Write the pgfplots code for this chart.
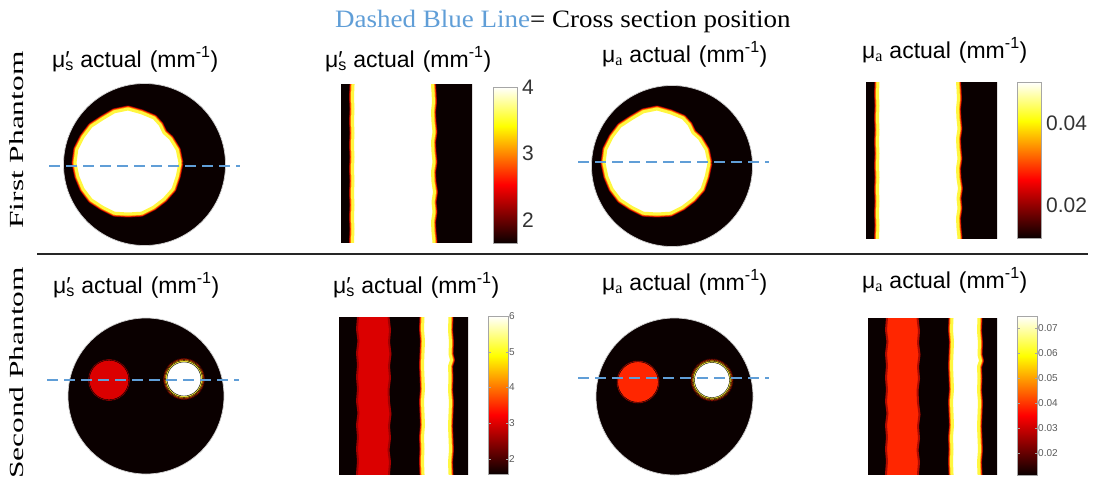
\documentclass[border=0pt]{standalone}
\usepackage{graphicx}
\usepackage{pgfplots}
\pgfplotsset{compat=1.18}
\usepackage{pgfplotstable}
\usepackage{fontspec}
\setmainfont{Liberation Sans}
\newfontfamily\serif{Liberation Serif}

% hot colour scale (black - red - yellow - white)
\pgfplotsset{colormap={matlabhot}{rgb=(0.0417,0,0) rgb=(0.36,0,0) rgb=(0.68,0,0) rgb=(1,0,0)
  rgb=(1,0.333,0) rgb=(1,0.667,0) rgb=(1,1,0) rgb=(1,1,0.5) rgb=(1,1,1)}}

\definecolor{hotblack}{rgb}{0.04,0,0}
\definecolor{hotdark}{rgb}{0.55,0,0}
\definecolor{hotred}{rgb}{0.86,0,0}
\definecolor{hotredA}{rgb}{1,0.15,0}
\definecolor{hotmid}{rgb}{0.97,0.15,0}
\definecolor{hotorange}{rgb}{1,0.6,0}
\definecolor{hotyellow}{rgb}{1,0.97,0.25}
\definecolor{lineblue}{RGB}{96,158,215}

% boundary of the large inclusion (offsets from its centre, pixels, y downwards)
\pgfplotstableread{
dx dy
52 0
49.3 -13.2
42.4 -24.5
36 -30.2
32.1 -38.3
26 -45
13.5 -50.2
0 -54
-13.7 -51.2
-25.5 -44.2
-36.8 -36.8
-45 -26
-51.2 -13.7
-53 0
-50.2 13.5
-45 26
-36.8 36.8
-25.5 44.2
-13.5 50.2
0 51
13.5 50.2
25.5 44.2
36.1 36.1
45 26
49.3 13.2
52 0
}\inclusion

% bright band of the first phantom cross section
\pgfplotstableread{
x y
353 75
353 85
352.5 97
353 109
352.5 121
353 133
352.5 145
353 157
352.5 169
353 181
352.5 193
353 205
352.5 217
353 229
352.5 242
352.5 252
433 252
434 242
433 232
432.5 222
434 212
433 202
434.5 192
433 182
432.5 172
434 162
433 152
432.5 142
434 132
433 122
432.5 112
433.5 102
433 92
432.5 85
432.5 75
353 75
}\secBright

% red band of the second phantom cross section
\pgfplotstableread{
x y
358 307
358 317
357 329
358.5 341
357 353
358 365
357 377
358 389
357 401
358.5 413
357 425
358 437
357 449
358 461
357 474
357 484
389 484
389 474
390 462
388.5 450
390 438
389 426
390.5 414
389 402
388.5 390
390 378
389 366
390.5 354
389 342
390 330
388.5 317
388.5 307
358 307
}\secRed

% bright band of the second phantom cross section
\pgfplotstableread{
x y
423 307
423 317
422.5 329
423.5 341
423 353
422.5 365
423 377
423.5 389
422.5 401
423 413
423.5 425
422.5 437
423 449
422.5 461
423 474
423 484
450 484
450 474
449.5 462
450.5 450
450 438
449.5 426
450 414
450.5 402
449.5 390
450 378
449.5 366
451.5 360
450 354
450.5 342
449.5 330
450 317
450 307
423 307
}\secWhite

% white region with its glowing rim: #1 table options, #2 table
\newcommand{\hotfringe}[2]{%
  \addplot[draw=hotdark, line width=7pt, line join=round] table[#1] {#2};
  \addplot[draw=hotmid, line width=5.8pt, line join=round] table[#1] {#2};
  \addplot[draw=hotorange, line width=4.4pt, line join=round] table[#1] {#2};
  \addplot[draw=hotyellow, fill=white, line width=3pt, line join=round] table[#1] {#2};
}
% filled disc of radius #2 at point #3
\newcommand{\disc}[3]{%
  \addplot[only marks, mark=*, mark size=#2, mark options={fill=#1, draw=none}] coordinates {#3};
}

\newcommand{\musp}{μ\rlap{′}\textsubscript{s}}
\newcommand{\mua}{μ\textsubscript{\serif a}}
\newcommand{\ttl}[1]{\fontsize{23}{23}\selectfont #1 actual\hspace{0.35em}(mm\textsuperscript{-1})}

\pgfplotsset{
  xsec/.style={anchor=south west, scale only axis, hide axis, y dir=reverse, clip=true},
  cbar/.style={anchor=south west, scale only axis, xmin=0, xmax=1, xtick=\empty,
    yticklabel pos=right, colormap name=matlabhot, axis on top, scaled y ticks=false,
    axis line style={draw=gray!70, line width=0.8pt}},
  bigcb/.style={major tick length=0pt,
    yticklabel style={font=\fontsize{21}{21}\selectfont, text=black!80, inner xsep=0pt, xshift=5pt}},
  smallcb/.style={major tick length=2.5pt, tick style={gray!70},
    yticklabel style={font=\fontsize{10}{10}\selectfont, text=black!65, inner xsep=0pt, xshift=1pt}},
}

\begin{document}
\begin{tikzpicture}
% ---------------- page frame in pixel units ----------------
\begin{axis}[at={(0,0)}, anchor=south west, scale only axis, width=1101pt, height=485pt,
  xmin=0, xmax=1101, ymin=0, ymax=485, y dir=reverse, hide axis, clip=false,
  clip marker paths=true]

\node[anchor=base west, inner sep=0pt] at (axis cs:335,27)
  {\scalebox{1.08}[1]{\serif\fontsize{25}{25}\selectfont\textcolor{lineblue}{Dashed Blue Line}= Cross section position}};

\node[rotate=90, anchor=base, inner sep=0pt] at (axis cs:23,140)
  {\scalebox{1.57}[1]{\serif\fontsize{20}{20}\selectfont First Phantom}};
\node[rotate=90, anchor=base, inner sep=0pt] at (axis cs:23,373)
  {\scalebox{1.57}[1]{\serif\fontsize{20}{20}\selectfont Second Phantom}};

\addplot[draw=black!85, line width=1.3pt] coordinates {(37,254) (1088,254)};

% panel titles
\node[anchor=base west, inner sep=0pt] at (axis cs:52,67) {\ttl{\musp}};
\node[anchor=base west, inner sep=0pt] at (axis cs:325,67) {\ttl{\musp}};
\node[anchor=base west, inner sep=0pt] at (axis cs:602,62) {\ttl{\mua}};
\node[anchor=base west, inner sep=0pt] at (axis cs:862,58) {\ttl{\mua}};
\node[anchor=base west, inner sep=0pt] at (axis cs:53,293) {\ttl{\musp}};
\node[anchor=base west, inner sep=0pt] at (axis cs:333,293) {\ttl{\musp}};
\node[anchor=base west, inner sep=0pt] at (axis cs:602,290) {\ttl{\mua}};
\node[anchor=base west, inner sep=0pt] at (axis cs:862,288) {\ttl{\mua}};

% first phantom, reduced scattering
\addplot[only marks, mark=*, mark size=81pt, mark options={fill=hotblack, draw=gray!35, line width=0.7pt}]
  coordinates {(144.5,164.5)};
\hotfringe{x expr=\thisrow{dx}+128, y expr=\thisrow{dy}+163}{\inclusion}
\addplot[draw=lineblue, line width=2.4pt, dash pattern=on 11pt off 6pt] coordinates {(49,166) (240,166)};

% first phantom, absorption
\addplot[only marks, mark=*, mark size=80.5pt, mark options={fill=hotblack, draw=gray!35, line width=0.7pt}]
  coordinates {(672,166)};
\hotfringe{x expr=\thisrow{dx}+657, y expr=\thisrow{dy}+163}{\inclusion}
\addplot[draw=lineblue, line width=2.4pt, dash pattern=on 11pt off 6pt] coordinates {(578,162) (769,162)};

% second phantom, reduced scattering
\addplot[only marks, mark=*, mark size=78pt, mark options={fill=hotblack, draw=gray!35, line width=0.7pt}]
  coordinates {(146,396)};
\disc{hotdark!70!hotred}{21pt}{(109,380)}
\disc{hotred}{19.8pt}{(109,380)}
\disc{hotdark}{21pt}{(184,379)}
\disc{hotmid}{20.3pt}{(184,379)}
\disc{hotorange}{19.4pt}{(184,379)}
\disc{hotyellow}{18.4pt}{(184,379)}
\disc{white}{17pt}{(184,379)}
\addplot[draw=lineblue, line width=2.4pt, dash pattern=on 11pt off 6pt] coordinates {(47,380) (239,380)};

% second phantom, absorption
\addplot[only marks, mark=*, mark size=78.5pt, mark options={fill=hotblack, draw=gray!35, line width=0.7pt}]
  coordinates {(674.5,396.5)};
\disc{hotdark!70!hotredA}{21.5pt}{(638,382)}
\disc{hotredA}{20.3pt}{(638,382)}
\disc{hotdark}{21.5pt}{(712,380)}
\disc{hotmid}{20.8pt}{(712,380)}
\disc{hotorange}{19.9pt}{(712,380)}
\disc{hotyellow}{18.9pt}{(712,380)}
\disc{white}{17.5pt}{(712,380)}
\addplot[draw=lineblue, line width=2.4pt, dash pattern=on 11pt off 6pt] coordinates {(578,378) (769,378)};
\end{axis}

% ---------------- cross sections ----------------
\begin{axis}[xsec, at={(341pt,243pt)}, width=131pt, height=157pt, xmin=341, xmax=472, ymin=85, ymax=242]
\addplot[fill=hotblack, draw=none] coordinates {(330,70) (480,70) (480,260) (330,260)};
\hotfringe{}{\secBright}
\end{axis}
\begin{axis}[xsec, at={(866pt,247pt)}, width=131pt, height=156pt, xmin=341, xmax=472, ymin=85, ymax=242]
\addplot[fill=hotblack, draw=none] coordinates {(330,70) (480,70) (480,260) (330,260)};
\hotfringe{}{\secBright}
\end{axis}
\begin{axis}[xsec, at={(339pt,11pt)}, width=129pt, height=157pt, xmin=339, xmax=468, ymin=317, ymax=474]
\addplot[fill=hotblack, draw=none] coordinates {(330,300) (480,300) (480,490) (330,490)};
\addplot[fill=hotred, draw=hotdark!70!hotred, line width=2pt] table {\secRed};
\hotfringe{}{\secWhite}
\end{axis}
\begin{axis}[xsec, at={(868pt,11pt)}, width=129pt, height=156pt, xmin=339, xmax=468, ymin=317, ymax=474]
\addplot[fill=hotblack, draw=none] coordinates {(330,300) (480,300) (480,490) (330,490)};
\addplot[fill=hotredA, draw=hotdark!70!hotredA, line width=2pt] table {\secRed};
\hotfringe{}{\secWhite}
\end{axis}

% ---------------- colour bars ----------------
\begin{axis}[cbar, bigcb, at={(493pt,242pt)}, width=24pt, height=156pt, ymin=1.66, ymax=4,
  ytick={2,3,4}, yticklabels={2,3,4}]
\addplot[surf, shader=interp, point meta=y, mesh/rows=2] coordinates {(0,1.66) (1,1.66) (0,4) (1,4)};
\end{axis}
\begin{axis}[cbar, bigcb, at={(1017pt,247pt)}, width=24pt, height=156pt, ymin=0.012, ymax=0.05,
  ytick={0.02,0.04}, yticklabels={0.02,0.04}]
\addplot[surf, shader=interp, point meta=y, mesh/rows=2] coordinates {(0,0.012) (1,0.012) (0,0.05) (1,0.05)};
\end{axis}
\begin{axis}[cbar, smallcb, at={(488pt,11pt)}, width=20pt, height=158pt, ymin=1.58, ymax=6,
  ytick={2,3,4,5,6}, yticklabels={2,3,4,5,6}]
\addplot[surf, shader=interp, point meta=y, mesh/rows=2] coordinates {(0,1.58) (1,1.58) (0,6) (1,6)};
\end{axis}
\begin{axis}[cbar, smallcb, at={(1017pt,10pt)}, width=20pt, height=159pt, ymin=0.0112, ymax=0.0748,
  ytick={0.02,0.03,0.04,0.05,0.06,0.07}, yticklabels={0.02,0.03,0.04,0.05,0.06,0.07}]
\addplot[surf, shader=interp, point meta=y, mesh/rows=2] coordinates {(0,0.0112) (1,0.0112) (0,0.0748) (1,0.0748)};
\end{axis}

\pgfresetboundingbox
\path[use as bounding box] (0,0) rectangle (1101pt,485pt);
\end{tikzpicture}
\end{document}
